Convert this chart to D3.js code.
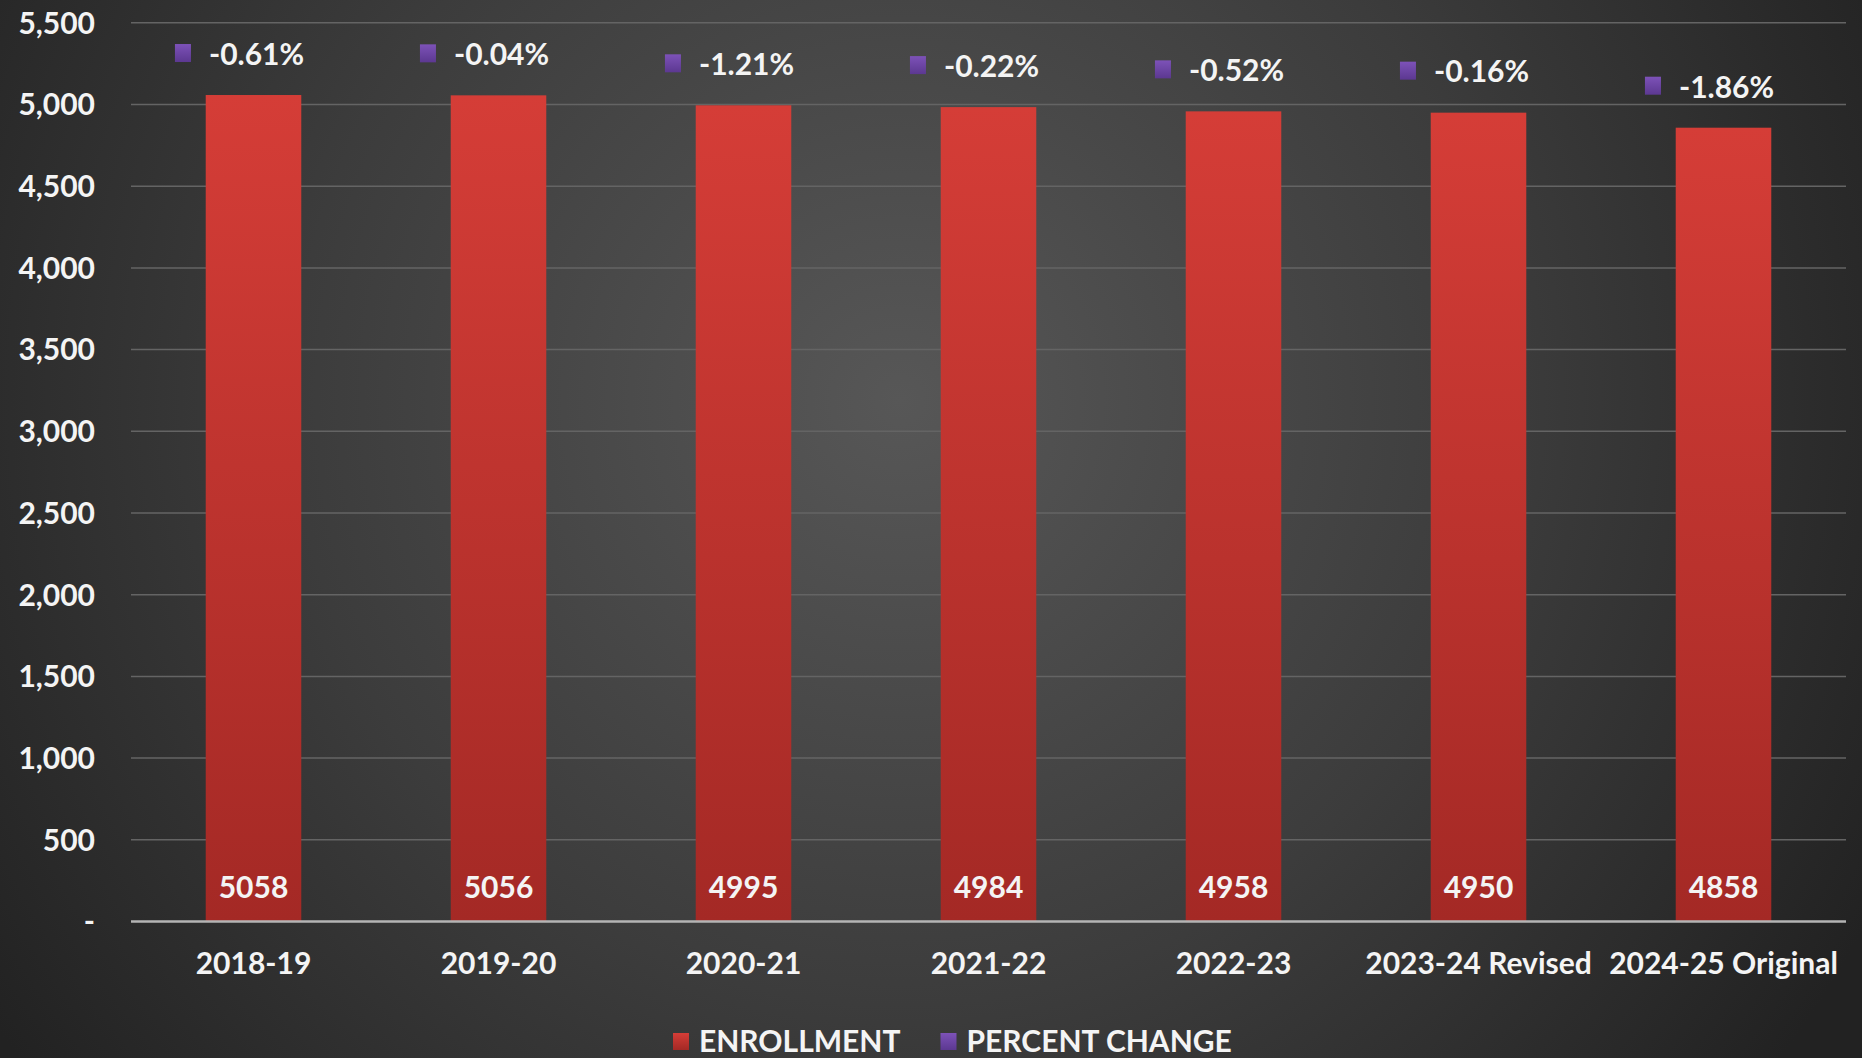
<!DOCTYPE html>
<html>
<head>
<meta charset="utf-8">
<script src="https://cdn.jsdelivr.net/npm/d3@7"></script>
<style>
    html, body { margin: 0; padding: 0; background: #2a2a2a; overflow: hidden; }
    svg { display: block; }
    text { font-family: Lato, "Open Sans", sans-serif; font-weight: bold; fill: #f4f4f4; }
</style>
</head>
<body>
<svg id="mysvg" width="1862" height="1058"></svg>
<script>
// Chart data
var years = ["2018-19", "2019-20", "2020-21", "2021-22", "2022-23", "2023-24 Revised", "2024-25 Original"];
var enrollment = [5058, 5056, 4995, 4984, 4958, 4950, 4858];
var percentChange = [-0.61, -0.04, -1.21, -0.22, -0.52, -0.16, -1.86];
var yTicks = [0, 500, 1000, 1500, 2000, 2500, 3000, 3500, 4000, 4500, 5000, 5500];
var legendItems = ["ENROLLMENT", "PERCENT CHANGE"];

var svg = d3.select("svg"),
    width = +svg.attr("width"),
    height = +svg.attr("height");

var defs = svg.append("defs");

// background radial gradient
var bg = defs.append("radialGradient")
    .attr("id", "bg")
    .attr("gradientUnits", "userSpaceOnUse")
    .attr("cx", 900).attr("cy", 400).attr("r", 1100);
bg.append("stop").attr("offset", "0").attr("stop-color", "#575757");
bg.append("stop").attr("offset", "0.55").attr("stop-color", "#3c3c3c");
bg.append("stop").attr("offset", "1").attr("stop-color", "#222222");

var barGrad = defs.append("linearGradient")
    .attr("id", "barGrad")
    .attr("x1", 0).attr("y1", 0).attr("x2", 0).attr("y2", 1);
barGrad.append("stop").attr("offset", "0").attr("stop-color", "#d53d37");
barGrad.append("stop").attr("offset", "1").attr("stop-color", "#a42925");

var keyGrad = defs.append("linearGradient")
    .attr("id", "keyGrad")
    .attr("x1", 0).attr("y1", 0).attr("x2", 0).attr("y2", 1);
keyGrad.append("stop").attr("offset", "0").attr("stop-color", "#7d52b8");
keyGrad.append("stop").attr("offset", "1").attr("stop-color", "#5c3891");

svg.append("rect")
    .attr("width", width)
    .attr("height", height)
    .attr("fill", "url(#bg)");

// Scales
var x = d3.scaleBand()
    .domain(years)
    .range([131, 1846])
    .paddingInner(0.61)
    .paddingOuter(0.305);

var y = d3.scaleLinear()
    .domain([0, 5500])
    .range([921.5, 22.8]);

// Gridlines
svg.append("g")
    .selectAll("line")
    .data(yTicks.slice(1))
    .enter().append("line")
    .attr("x1", 131)
    .attr("x2", 1846)
    .attr("y1", function (d) { return y(d); })
    .attr("y2", function (d) { return y(d); })
    .attr("stroke", "#646464")
    .attr("stroke-width", 1.5);

// Y axis labels
svg.append("g")
    .selectAll("text")
    .data(yTicks)
    .enter().append("text")
    .attr("x", 95)
    .attr("y", function (d) { return y(d); })
    .attr("dy", "0.36em")
    .attr("text-anchor", "end")
    .attr("font-size", "30px")
    .text(function (d) { return d === 0 ? "-" : d3.format(",")(d); });

// Bars
svg.append("g")
    .selectAll(".bar")
    .data(enrollment)
    .enter().append("rect")
    .attr("class", "bar")
    .attr("x", function (d, i) { return x(years[i]); })
    .attr("y", function (d) { return y(d); })
    .attr("width", x.bandwidth())
    .attr("height", function (d) { return y(0) - y(d); })
    .attr("fill", "url(#barGrad)");

// Baseline
svg.append("line")
    .attr("x1", 131)
    .attr("x2", 1846)
    .attr("y1", y(0))
    .attr("y2", y(0))
    .attr("stroke", "#b4b4b4")
    .attr("stroke-width", 2.5);

// Value labels inside bars
svg.append("g")
    .selectAll("text")
    .data(enrollment)
    .enter().append("text")
    .attr("x", function (d, i) { return x(years[i]) + x.bandwidth() / 2; })
    .attr("y", y(0) - 24)
    .attr("text-anchor", "middle")
    .attr("font-size", "30px")
    .attr("fill", "#fbeeee")
    .text(function (d) { return d; });

// X axis labels
svg.append("g")
    .selectAll("text")
    .data(years)
    .enter().append("text")
    .attr("x", function (d) { return x(d) + x.bandwidth() / 2; })
    .attr("y", y(0) + 52)
    .attr("text-anchor", "middle")
    .attr("font-size", "30px")
    .text(function (d) { return d; });

// Percent change labels with legend keys, above each bar
var pct = svg.append("g")
    .selectAll("g")
    .data(percentChange)
    .enter().append("g")
    .attr("transform", function (d, i) {
        return "translate(" + (x(years[i]) + x.bandwidth() / 2 - 14) + "," + (y(enrollment[i]) - 41) + ")";
    });

pct.append("text")
    .attr("x", 0)
    .attr("y", 0)
    .attr("dy", "0.36em")
    .attr("font-size", "30px")
    .text(function (d) { return d.toFixed(2) + "%"; });

// center key + text on the bar
pct.each(function () {
    var g = d3.select(this);
    var tw = g.select("text").node().getComputedTextLength();
    var total = 16 + 18 + tw;
    g.select("text").attr("x", -total / 2 + 34);
    g.insert("rect", "text")
        .attr("x", -total / 2)
        .attr("y", -10)
        .attr("width", 16)
        .attr("height", 18)
        .attr("fill", "url(#keyGrad)");
});

// Legend
var legendColors = ["url(#barGrad)", "url(#keyGrad)"];
var legend = svg.append("g")
    .attr("transform", "translate(0,1041)");
var lx = 673;
legendItems.forEach(function (name, i) {
    legend.append("rect")
        .attr("x", lx)
        .attr("y", -8)
        .attr("width", 16)
        .attr("height", 17)
        .attr("fill", legendColors[i]);
    var t = legend.append("text")
        .attr("x", lx + 26)
        .attr("y", 0)
        .attr("dy", "0.36em")
        .attr("font-size", "30px")
        .text(name);
    lx += 26 + t.node().getComputedTextLength() + 40;
});
</script>
</body>
</html>
